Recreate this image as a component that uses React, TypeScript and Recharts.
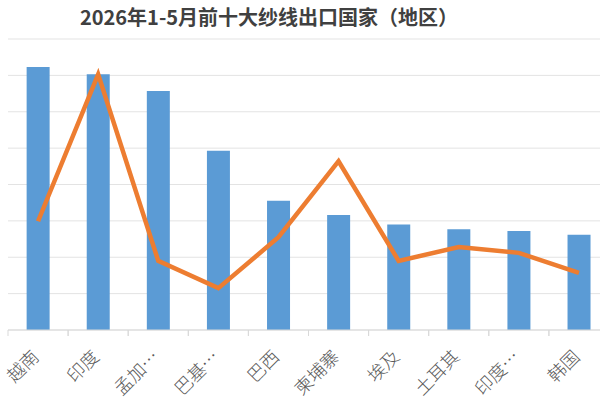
import React from "react";
import { ComposedChart, Bar, Line, XAxis, YAxis, CartesianGrid } from "recharts";

const categories = ["越南", "印度", "孟加…", "巴基…", "巴西", "柬埔寨", "埃及", "土耳其", "印度…", "韩国"];
const barValues = [7.23, 7.03, 6.57, 4.93, 3.55, 3.16, 2.9, 2.77, 2.72, 2.62];
const lineValues = [2.99, 7.03, 1.9, 1.15, 2.55, 4.64, 1.9, 2.28, 2.12, 1.57];
const yTicks = [0, 1, 2, 3, 4, 5, 6, 7, 8];

const data = categories.map((name, i) => ({ name, bar: barValues[i], line: lineValues[i] }));

const CHART_W = 610;
const MARGIN_L = 8;
const MARGIN_R = 1;
const BAND = (CHART_W - MARGIN_L - MARGIN_R) / categories.length;

const Tick = (props: any) => {
  const { x, y, payload } = props;
  const ax = x + 2;
  const ay = y + 28;
  return (
    <g>
      <line x1={x - BAND / 2} y1={y} x2={x - BAND / 2} y2={y + 6} stroke="#d9d9d9" strokeWidth={1} />
      <line x1={x + BAND / 2} y1={y} x2={x + BAND / 2} y2={y + 6} stroke="#d9d9d9" strokeWidth={1} />
      <text
        x={ax}
        y={ay}
        textAnchor="end"
        transform={`rotate(-45, ${ax}, ${ay})`}
        fill="#595959"
        fontSize={18}
        fontWeight={300}
        fontFamily="'Noto Sans CJK SC', sans-serif"
      >
        {payload.value}
      </text>
    </g>
  );
};

export default function App() {
  return (
    <div style={{ position: "absolute", left: 0, top: 0, width: 600, height: 400, overflow: "hidden", background: "#fff" }}>
      <div
        style={{
          position: "absolute",
          left: 0,
          width: 538,
          top: 4,
          textAlign: "center",
          fontSize: 20,
          fontWeight: "bold",
          color: "#404040",
          fontFamily: "'Noto Sans CJK SC', sans-serif",
          lineHeight: "26px",
        }}
      >
        2026年1-5月前十大纱线出口国家（地区）
      </div>
      <ComposedChart
        width={CHART_W}
        height={400}
        data={data}
        margin={{ top: 39, right: MARGIN_R, bottom: 0, left: MARGIN_L }}
        barCategoryGap="31%"
      >
        <CartesianGrid horizontal vertical={false} stroke="#e3e3e3" strokeWidth={1} />
        <XAxis
          dataKey="name"
          height={70}
          interval={0}
          tickSize={0}
          tickMargin={0}
          tickLine={false}
          axisLine={{ stroke: "#d9d9d9" }}
          tick={<Tick />}
        />
        <YAxis hide domain={[0, 8]} ticks={yTicks} width={0} />
        <Bar dataKey="bar" fill="#5b9bd5" isAnimationActive={false} />
        <Line
          dataKey="line"
          type="linear"
          stroke="#ed7d31"
          strokeWidth={4.5}
          dot={false}
          activeDot={false}
          isAnimationActive={false}
        />
      </ComposedChart>
    </div>
  );
}
